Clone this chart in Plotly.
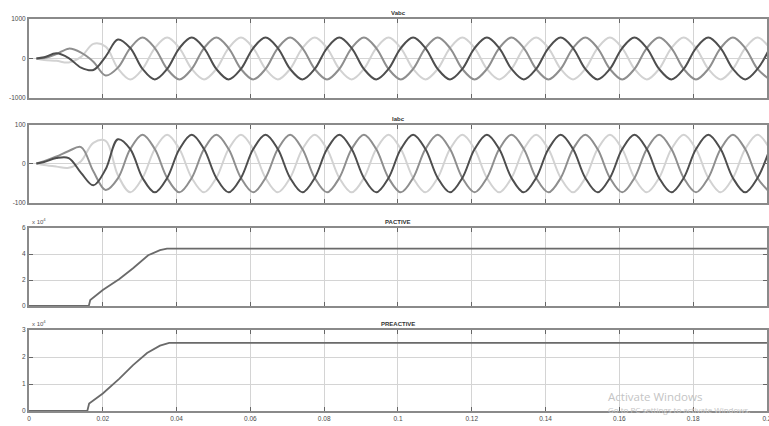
import plotly.graph_objects as go

# ---------------- data ----------------
# sampling instants of the three-phase waveforms (seconds)
t_wave = [0.002] + [round(0.00077 + k / 300, 5) for k in range(1, 61)]

Va = [0, 30, 130, 10, -230, -290, 50, 480, 265, -265, -530, -265,
      265, 530, 265, -265, -530, -265, 265, 530, 265, -265, -530, -265,
      265, 530, 265, -265, -530, -265, 265, 530, 265, -265, -530, -265,
      265, 530, 265, -265, -530, -265, 265, 530, 265, -265, -530, -265,
      265, 530, 265, -265, -530, -265, 265, 530, 265, -265, -530, -265,
      265]
Vb = [0, 10, 110, 250, 150, -80, -430, -230, 265, 530, 265, -265,
      -530, -265, 265, 530, 265, -265, -530, -265, 265, 530, 265, -265,
      -530, -265, 265, 530, 265, -265, -530, -265, 265, 530, 265, -265,
      -530, -265, 265, 530, 265, -265, -530, -265, 265, 530, 265, -265,
      -530, -265, 265, 530, 265, -265, -530, -265, 265, 530, 265, -265,
      -530]
Vc = [0, -40, -60, -100, 40, 370, 300, -250, -530, -265, 265, 530,
      265, -265, -530, -265, 265, 530, 265, -265, -530, -265, 265, 530,
      265, -265, -530, -265, 265, 530, 265, -265, -530, -265, 265, 530,
      265, -265, -530, -265, 265, 530, 265, -265, -530, -265, 265, 530,
      265, -265, -530, -265, 265, 530, 265, -265, -530, -265, 265, 530,
      265]

Ia = [0, 4, 14, 14, -24, -56, -15, 62, 37, -37, -74, -37,
      37, 74, 37, -37, -74, -37, 37, 74, 37, -37, -74, -37,
      37, 74, 37, -37, -74, -37, 37, 74, 37, -37, -74, -37,
      37, 74, 37, -37, -74, -37, 37, 74, 37, -37, -74, -37,
      37, 74, 37, -37, -74, -37, 37, 74, 37, -37, -74, -37,
      37]
Ib = [0, 6, 18, 32, 42, -20, -68, -38, 37, 74, 37, -37,
      -74, -37, 37, 74, 37, -37, -74, -37, 37, 74, 37, -37,
      -74, -37, 37, 74, 37, -37, -74, -37, 37, 74, 37, -37,
      -74, -37, 37, 74, 37, -37, -74, -37, 37, 74, 37, -37,
      -74, -37, 37, 74, 37, -37, -74, -37, 37, 74, 37, -37,
      -74]
Ic = [0, -4, -8, -11, 6, 53, 58, -30, -74, -37, 37, 74,
      37, -37, -74, -37, 37, 74, 37, -37, -74, -37, 37, 74,
      37, -37, -74, -37, 37, 74, 37, -37, -74, -37, 37, 74,
      37, -37, -74, -37, 37, 74, 37, -37, -74, -37, 37, 74,
      37, -37, -74, -37, 37, 74, 37, -37, -74, -37, 37, 74,
      37]

t_p = [0, 0.0162, 0.0166, 0.02, 0.0245, 0.0282, 0.0323, 0.0355, 0.0374, 0.2]
p_active = [0, 0, 4600, 12300, 20800, 29000, 39000, 43000, 44200, 44200]

t_q = [0, 0.0158, 0.0163, 0.02, 0.0245, 0.0282, 0.032, 0.0355, 0.038, 0.2]
q_reactive = [0, 0, 2800, 6500, 12000, 17000, 21500, 24200, 25200, 25200]

x_ticks = [0, 0.02, 0.04, 0.06, 0.08, 0.1, 0.12, 0.14, 0.16, 0.18, 0.2]
x_tick_text = ["0", "0.02", "0.04", "0.06", "0.08", "0.1", "0.12", "0.14", "0.16", "0.18", "0.2"]

titles = ["Vabc", "Iabc", "PACTIVE", "PREACTIVE"]
y_ticks = [[-1000, 0, 1000], [-100, 0, 100], [0, 20000, 40000, 60000], [0, 10000, 20000, 30000]]
y_tick_text = [["-1000", "0", "1000"], ["-100", "0", "100"], ["0", "2", "4", "6"], ["0", "1", "2", "3"]]
y_ranges = [[-1000, 1000], [-100, 100], [0, 60000], [0, 30000]]

# ---------------- figure ----------------
W, H = 769, 426
domains_px = [(19, 98), (124.5, 202.5), (228, 306), (330, 411)]
domains = [[1 - b / H, 1 - t / H] for t, b in domains_px]

phase_colors = ["#4e4e4e", "#8e8e8e", "#d2d2d2"]

fig = go.Figure()

def add_wave(vals, color, axis_idx):
    fig.add_trace(go.Scatter(
        x=t_wave, y=vals, mode="lines",
        line=dict(color=color, width=2, shape="spline", smoothing=1.0),
        xaxis="x" if axis_idx == 1 else f"x{axis_idx}",
        yaxis="y" if axis_idx == 1 else f"y{axis_idx}",
        showlegend=False, hoverinfo="skip"))

# draw lightest first so darkest sits on top
add_wave(Vc, phase_colors[2], 1)
add_wave(Vb, phase_colors[1], 1)
add_wave(Va, phase_colors[0], 1)
add_wave(Ic, phase_colors[2], 2)
add_wave(Ib, phase_colors[1], 2)
add_wave(Ia, phase_colors[0], 2)

fig.add_trace(go.Scatter(x=t_p, y=p_active, mode="lines",
                         line=dict(color="#6a6a6a", width=1.8),
                         xaxis="x3", yaxis="y3", showlegend=False, hoverinfo="skip"))
fig.add_trace(go.Scatter(x=t_q, y=q_reactive, mode="lines",
                         line=dict(color="#6a6a6a", width=1.8),
                         xaxis="x4", yaxis="y4", showlegend=False, hoverinfo="skip"))

axis_font = dict(family="Liberation Sans, Arial, sans-serif", size=6.5, color="#4a4a4a")
layout = dict(
    width=W, height=H,
    margin=dict(l=29, r=2, t=0, b=0),
    paper_bgcolor="white", plot_bgcolor="white",
    showlegend=False,
)
for i in range(4):
    xs = "xaxis" if i == 0 else f"xaxis{i + 1}"
    ys = "yaxis" if i == 0 else f"yaxis{i + 1}"
    yref = "y" if i == 0 else f"y{i + 1}"
    layout[xs] = dict(
        domain=[0, 1], anchor=yref, range=[0, 0.20001],
        tickvals=x_ticks, ticktext=x_tick_text, ticklabeloverflow="allow",
        showticklabels=(i == 3), ticks="inside", ticklen=4, tickcolor="#666666",
        showgrid=True, gridcolor="#d4d4d4", gridwidth=1,
        showline=True, mirror="ticks", linecolor="#8a8a8a", linewidth=2,
        zeroline=False, tickfont=axis_font, automargin=False,
    )
    layout[ys] = dict(
        domain=domains[i], anchor="x" if i == 0 else f"x{i + 1}",
        range=y_ranges[i], tickvals=y_ticks[i], ticktext=y_tick_text[i],
        ticks="inside", ticklen=4, tickcolor="#666666",
        showgrid=True, gridcolor="#d4d4d4", gridwidth=1,
        showline=True, mirror="ticks", linecolor="#8a8a8a", linewidth=2,
        zeroline=False, tickfont=axis_font, automargin=False,
    )
fig.update_layout(**layout)

annotations = []
for i, ttl in enumerate(titles):
    top_px = domains_px[i][0]
    annotations.append(dict(
        text=f"<b>{ttl}</b>", x=0.5, y=1 - (top_px - 1) / H, xref="paper", yref="paper",
        xanchor="center", yanchor="bottom", showarrow=False,
        font=dict(family="Liberation Sans, Arial, sans-serif", size=6, color="#333333")))
for i in (2, 3):
    top_px = domains_px[i][0]
    annotations.append(dict(
        text="x 10<sup>4</sup>", x=0.002, y=1 - (top_px - 1) / H, xref="paper", yref="paper",
        xanchor="left", yanchor="bottom", showarrow=False,
        font=dict(family="Liberation Sans, Arial, sans-serif", size=6, color="#555555")))
# desktop watermark visible in the screenshot
annotations.append(dict(
    text="Activate Windows", x=(606 - 29) / (W - 31), y=1 - 396 / H, xref="paper", yref="paper",
    xanchor="left", yanchor="middle", showarrow=False,
    font=dict(family="Open Sans, sans-serif", size=11.5, color="#c4c4c4")))
annotations.append(dict(
    text="Go to PC settings to activate Windows.", x=(606 - 29) / (W - 31), y=1 - 409.5 / H,
    xref="paper", yref="paper", xanchor="left", yanchor="middle", showarrow=False,
    font=dict(family="Open Sans, sans-serif", size=8, color="#c4c4c4")))
fig.update_layout(annotations=annotations)

fig.write_html("out.html", config={"displayModeBar": False},
               post_script="document.body.style.margin='0px';")
